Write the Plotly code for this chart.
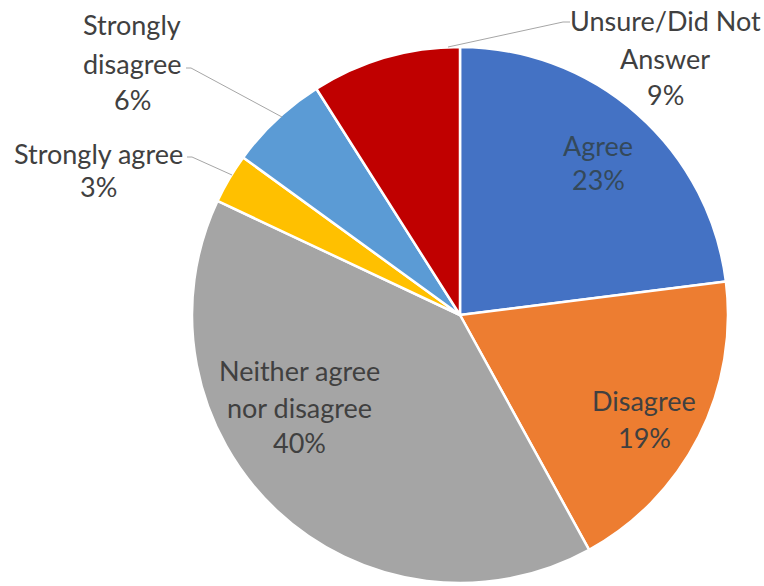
import plotly.graph_objects as go

labels = ["Agree", "Disagree", "Neither agree nor disagree", "Strongly agree",
          "Strongly disagree", "Unsure/Did Not Answer"]
values = [23, 19, 40, 3, 6, 9]
colors = ["#4472C4", "#ED7D31", "#A5A5A5", "#FFC000", "#5B9BD5", "#C00000"]

W, H = 764, 586
CX, CY, R = 460, 315, 268
FONT = "Lato, Calibri, sans-serif"
TXT = "#404040"


def px(x):
    return x / W


def py(y):
    return 1 - y / H


fig = go.Figure(go.Pie(
    labels=labels, values=values, sort=False, direction="clockwise", rotation=0,
    marker=dict(colors=colors, line=dict(color="white", width=2.5)),
    textinfo="none", hoverinfo="label+percent", showlegend=False,
    domain=dict(x=[px(CX - R), px(CX + R)], y=[py(CY + R), py(CY - R)]),
))

pct = {lab: f"{v}%" for lab, v in zip(labels, values)}

# label lines: (text lines, center x, list of line y positions, color)
label_specs = [
    (["Agree", pct["Agree"]], 598, [145, 179], "#34495A"),
    (["Disagree", pct["Disagree"]], 644, [400, 437], TXT),
    (["Neither agree", "nor disagree", pct["Neither agree nor disagree"]], 299, [370, 407, 442], TXT),
    (["Strongly agree", pct["Strongly agree"]], 98, [153, 187], TXT),
    (["Strongly", "disagree", pct["Strongly disagree"]], 132, [25, 63, 100], TXT),
    (["Unsure/Did Not", "Answer", pct["Unsure/Did Not Answer"]], 665, [21, 58, 95], TXT),
]

annotations = []
for lines, x, ys, col in label_specs:
    for t, y in zip(lines, ys):
        annotations.append(dict(
            text=t, x=px(x), y=py(y), xref="paper", yref="paper",
            xanchor="center", yanchor="middle", showarrow=False,
            font=dict(family=FONT, size=27, color=col),
        ))

# leader lines for the small outside slices
leaders = [
    [(186, 68), (191, 68), (282, 117)],
    [(187, 157), (192, 157), (232, 175)],
    [(570, 22), (563, 22), (448, 47)],
]
shapes = []
for pts in leaders:
    path = "M " + " L ".join(f"{px(x)} {py(y)}" for x, y in pts)
    shapes.append(dict(type="path", path=path, xref="paper", yref="paper",
                       line=dict(color="#A6A6A6", width=1)))

fig.update_layout(
    width=W, height=H, margin=dict(l=0, r=0, t=0, b=0),
    paper_bgcolor="white", plot_bgcolor="white",
    annotations=annotations, shapes=shapes,
)

fig.write_html("out.html")
